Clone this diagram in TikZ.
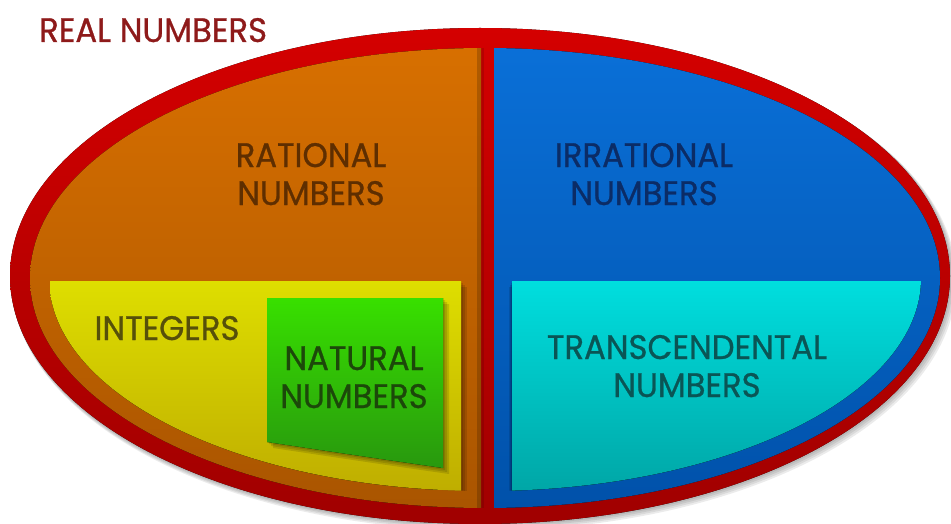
\documentclass[tikz,border=0pt]{standalone}
\usepackage{fontspec}
\setmainfont{Poppins}
\newfontfamily\lblfont[FakeStretch=0.95,FakeBold=0.8]{Poppins}
\usetikzlibrary{calc}
\definecolor{ringtop}{HTML}{D40000}
\definecolor{ringbot}{HTML}{A00000}
\definecolor{orgtop}{HTML}{D87000}
\definecolor{orgbot}{HTML}{A85400}
\definecolor{blutop}{HTML}{0A70D8}
\definecolor{blubot}{HTML}{0050A8}
\definecolor{yeltop}{HTML}{DEDE00}
\definecolor{yelbot}{HTML}{BFAE00}
\definecolor{grntop}{HTML}{38E000}
\definecolor{grnbot}{HTML}{28980E}
\definecolor{cyntop}{HTML}{00DEDE}
\definecolor{cynbot}{HTML}{00A6A6}
\definecolor{txtreal}{HTML}{8E1A1A}
\definecolor{txtrat}{HTML}{5E2E00}
\definecolor{txtirr}{HTML}{0B2C66}
\definecolor{txtint}{HTML}{56500A}
\definecolor{txtnat}{HTML}{1C480A}
\definecolor{txttra}{HTML}{0A5555}
\tikzset{
  lbl/.style={font=\lblfont\fontsize{34}{38}\selectfont, align=center, inner sep=0pt},
  softshadow/.style={fill=black, opacity=0.08}
}
\begin{document}
\begin{tikzpicture}[x=1pt,y=-1pt]
\useasboundingbox (0,0) rectangle (951,524);
% drop shadow of the whole ellipse
\foreach \d in {2,4,6,8}{
  \fill[softshadow] (480+\d*0.5,276+\d*0.6) ellipse [x radius=470+\d*0.3, y radius=248+\d*0.2];
}
% outer red ring
\fill[top color=ringtop, bottom color=ringbot] (480,276) ellipse [x radius=470, y radius=248];
% inner halves
\begin{scope}
  \clip (485,278) ellipse [x radius=455, y radius=230];
  \fill[top color=orgtop, bottom color=orgbot] (0,40) rectangle (481,524);
  \fill[top color=blutop, bottom color=blubot] (494,40) rectangle (951,524);
  % shade next to the divider
  \fill[black, opacity=0.18] (477,40) rectangle (481,524);
  \fill[black, opacity=0.12] (481,40) rectangle (484,524);
  % inner boxes clipped by the inset ellipse
  \clip (485,278) ellipse [x radius=436, y radius=213];
  \foreach \d in {2,4,6}{
    \fill[softshadow, opacity=0.12] (50+\d,281+\d) rectangle (461+\d,490+\d);
    \fill[softshadow, opacity=0.12] (512-\d*0.5,281+\d) rectangle (923,492+\d);
  }
  \fill[top color=yeltop, bottom color=yelbot] (50,281) rectangle (461,490);
  \fill[top color=cyntop, bottom color=cynbot] (512,281) rectangle (923,492);
\end{scope}
% green box with shadow
\foreach \d in {2,4,6}{
  \fill[softshadow, opacity=0.12] (267+\d,298+\d) -- (443+\d,298+\d) -- (443+\d,468+\d) .. controls (380+\d,459+\d) and (320+\d,450+\d) .. (267+\d,442+\d) -- cycle;
}
\fill[top color=grntop, bottom color=grnbot] (267,298) -- (443,298) -- (443,468) .. controls (380,459) and (320,450) .. (267,442) -- cycle;
% labels (anchor = baseline of the last line)
\node[lbl, text=txtreal, anchor=base west] (real) at (39,42) {REAL NUMBERS};
\node[lbl, text=txtrat, anchor=base] (rat) at (311,205) {RATIONAL\\NUMBERS};
\node[lbl, text=txtirr, anchor=base] (irr) at (644,205) {IRRATIONAL\\NUMBERS};
\node[lbl, text=txtint, anchor=base] (int) at (167,340) {INTEGERS};
\node[lbl, text=txtnat, anchor=base] (nat) at (354,408) {NATURAL\\NUMBERS};
\node[lbl, text=txttra, anchor=base] (tra) at (687,397) {TRANSCENDENTAL\\NUMBERS};
\end{tikzpicture}
\end{document}
